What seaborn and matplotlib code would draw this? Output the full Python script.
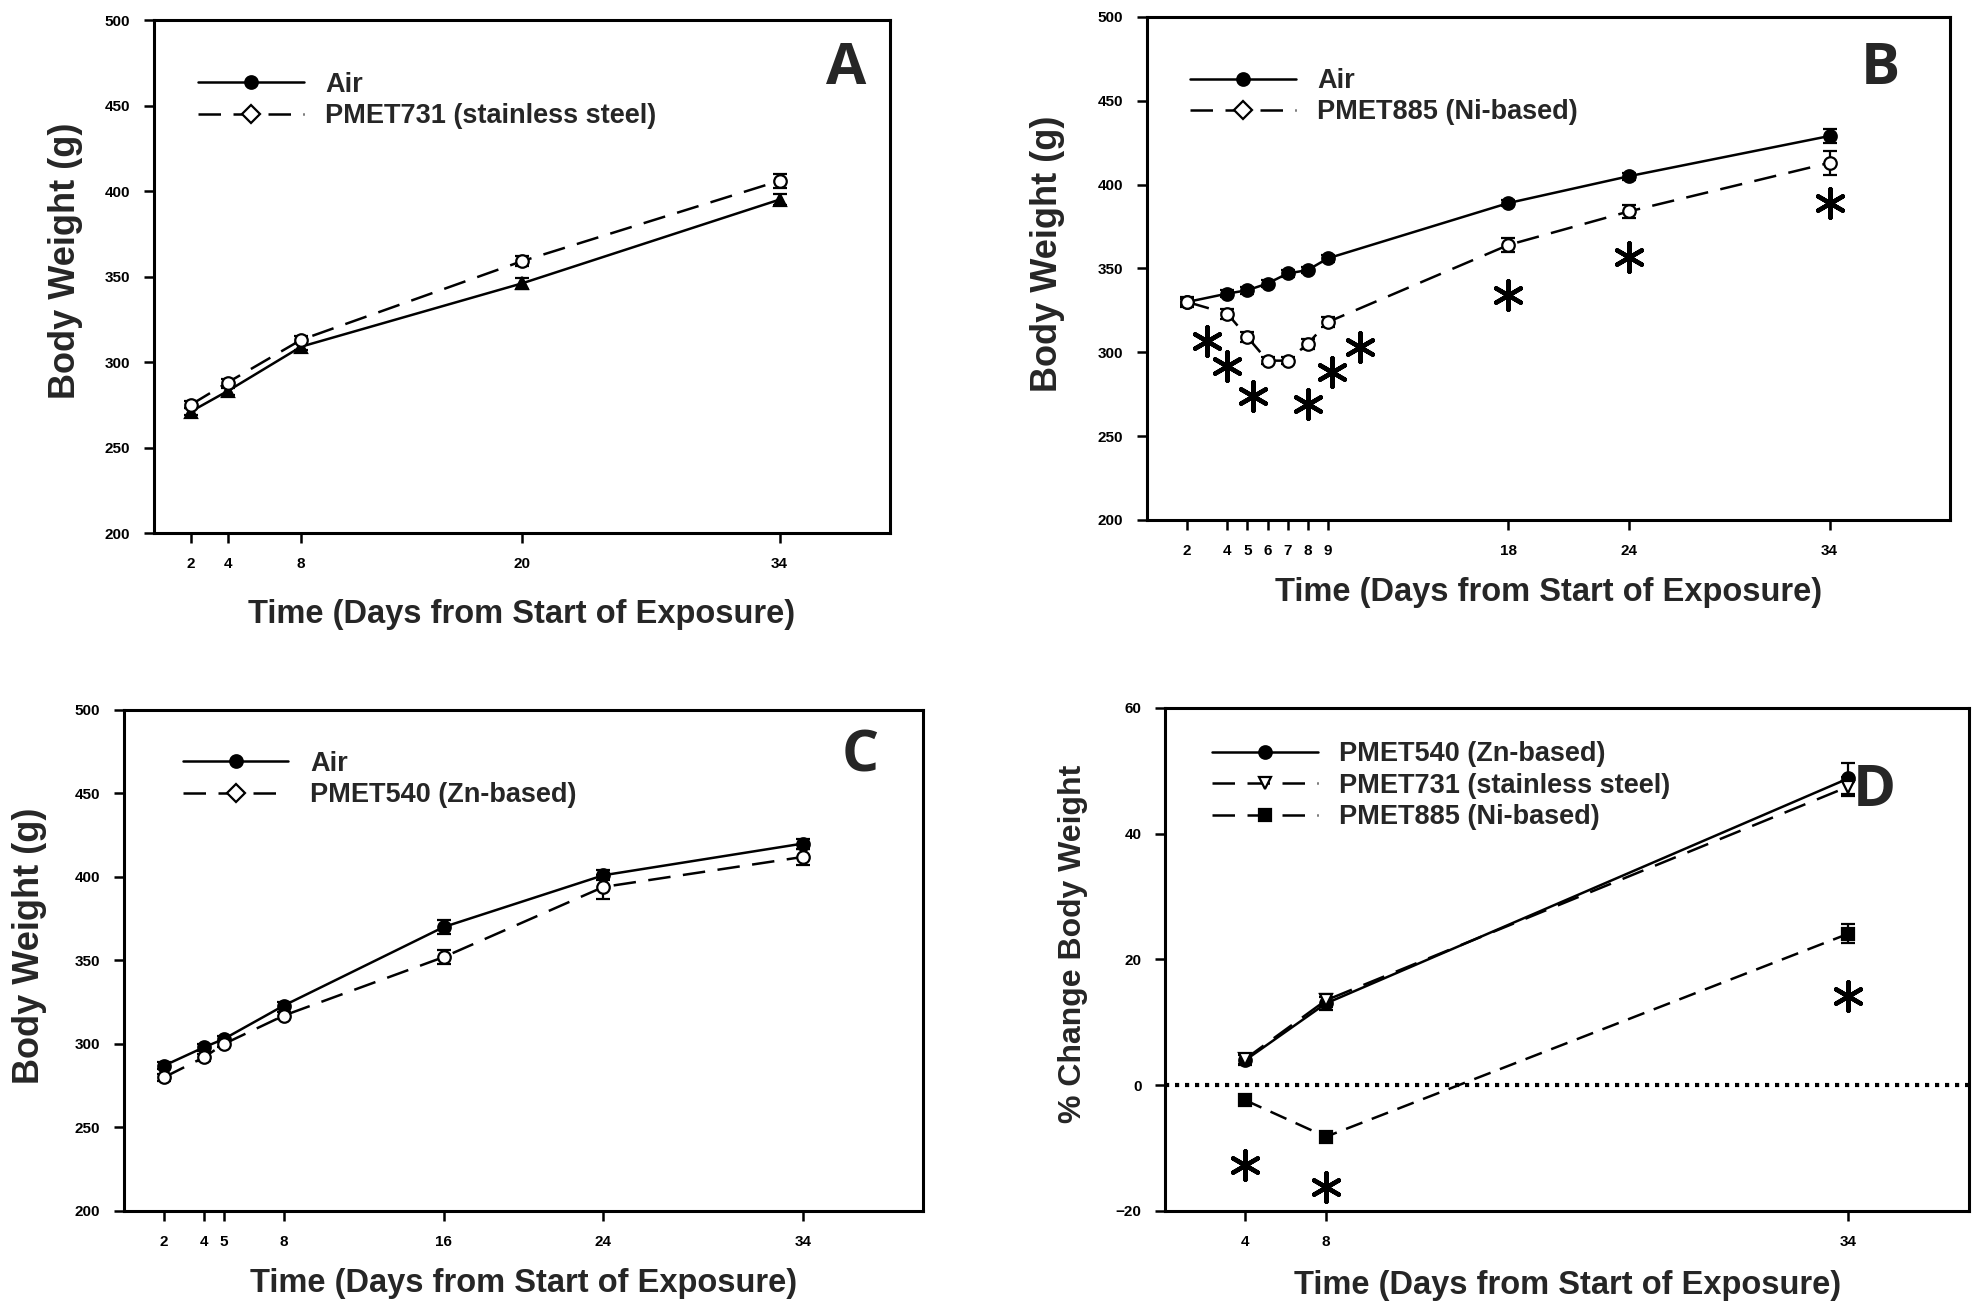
import numpy as np
import pandas as pd
import matplotlib
matplotlib.use("Agg")
import matplotlib.pyplot as plt
import seaborn as sns
from matplotlib.lines import Line2D

# ---------------- data ----------------
# Panel A
a_days = [2, 4, 8, 20, 34]
a_air = [271, 283, 309, 346, 395]
a_air_err = [2, 2, 2, 3, 3]
a_731 = [275, 288, 313, 359, 406]
a_731_err = [2, 2, 2, 3, 4]
a_ticks = [2, 4, 8, 20, 34]

# Panel B
b_days = [2, 4, 5, 6, 7, 8, 9, 18, 24, 34]
b_air = [330, 335, 337, 341, 347, 349, 356, 389, 405, 429]
b_air_err = [2, 2, 2, 2, 2, 2, 2, 2, 2, 4]
b_885 = [330, 323, 309, 295, 295, 305, 318, 364, 384, 413]
b_885_err = [3, 3, 3, 2, 2, 3, 3, 4, 4, 7]
b_ticks = [2, 4, 5, 6, 7, 8, 9, 18, 24, 34]
b_star_x = [3.0, 4.0, 5.3, 8.0, 9.2, 10.6, 18.0, 24.0, 34.0]
b_star_y = [307, 292, 274, 269, 288, 303, 334, 357, 389]

# Panel C
c_days = [2, 4, 5, 8, 16, 24, 34]
c_air = [287, 298, 303, 323, 370, 401, 420]
c_air_err = [2, 2, 2, 2, 4, 3, 3]
c_540 = [280, 292, 300, 317, 352, 394, 412]
c_540_err = [2, 2, 2, 2, 4, 7, 5]
c_ticks = [2, 4, 5, 8, 16, 24, 34]

# Panel D
d_days = [4, 8, 34]
d_540 = [4.0, 13.0, 48.8]
d_540_err = [0.8, 1.0, 2.5]
d_731 = [4.2, 13.5, 47.5]
d_731_err = [0.8, 1.0, 1.5]
d_885 = [-2.4, -8.2, 24.1]
d_885_err = [0.8, 0.8, 1.5]
d_ticks = [4, 8, 34]
d_star_x = [4.0, 8.0, 34.0]
d_star_y = [-12.7, -16.2, 14.2]

# ---------------- style ----------------
sns.set_theme(style="white")
plt.rcParams["font.family"] = ["Liberation Sans", "DejaVu Sans"]

fig = plt.figure(figsize=(19.76, 13.11), dpi=100)
axA = fig.add_axes([0.0779, 0.5934, 0.3725, 0.3913])
axB = fig.add_axes([0.5805, 0.6034, 0.4064, 0.3837])
axC = fig.add_axes([0.0628, 0.0763, 0.4043, 0.3822])
axD = fig.add_axes([0.5896, 0.0763, 0.4069, 0.3837])

DASH = (0, (9, 5))
DASH2 = (0, (7, 4))


def series(ax, x, y, err, filled=True, ls="-", marker="o", ms=9):
    sns.lineplot(x=x, y=y, ax=ax, color="black", linewidth=1.8, linestyle=ls,
                 marker=marker, markersize=ms,
                 markerfacecolor="black" if filled else "white",
                 markeredgecolor="black", markeredgewidth=1.6, zorder=3)
    ax.errorbar(x, y, yerr=err, fmt="none", ecolor="black", elinewidth=1.6,
                capsize=5, capthick=1.6, zorder=2)


def stars(ax, x, y):
    sns.scatterplot(x=x, y=y, ax=ax, marker=(6, 2, 0), s=420, color="black",
                    linewidth=3.2, edgecolor="black", zorder=4, legend=False)


def style_axes(ax, ticks, ylim, yticks, ylabel, letter, lab_xy, letter_xy, ylab_size=26):
    ax.set_xlim(0, 40)
    ax.set_ylim(*ylim)
    ax.set_xticks(ticks)
    ax.set_yticks(yticks)
    for s in ax.spines.values():
        s.set_color("black")
        s.set_linewidth(2.2)
    ax.tick_params(axis="both", which="both", direction="out", length=7, width=1.8,
                   bottom=True, left=True, top=False, right=False,
                   labelsize=11, colors="black", pad=10)
    for t in ax.get_xticklabels() + ax.get_yticklabels():
        t.set_fontweight("bold")
    ax.set_xlabel("Time (Days from Start of Exposure)", fontsize=23.5, fontweight="bold")
    ax.set_ylabel(ylabel, fontsize=ylab_size, fontweight="bold")
    ax.xaxis.set_label_coords(0.5, lab_xy[1])
    ax.yaxis.set_label_coords(lab_xy[0], 0.53)
    ax.text(letter_xy[0], letter_xy[1], letter, transform=ax.transAxes, fontsize=42,
            fontweight="bold", ha="center", va="center", family=["Open Sans", "DejaVu Sans"])


def legend(ax, entries, anchor):
    handles = []
    for lab, ls, mk, filled in entries:
        handles.append(Line2D([], [], color="black", linewidth=1.8, linestyle=ls, marker=mk,
                              markersize=9, markerfacecolor="black" if filled else "white",
                              markeredgecolor="black", markeredgewidth=1.6, label=lab))
    ax.legend(handles=handles, loc="upper left", bbox_to_anchor=anchor, frameon=False,
              prop={"size": 19.5, "weight": "bold"}, handlelength=3.9,
              handletextpad=0.8, labelspacing=0.2, borderaxespad=0)


# Panel A
series(axA, a_days, a_air, a_air_err, filled=True, ls="-", marker="^")
series(axA, a_days, a_731, a_731_err, filled=False, ls=DASH, marker="o")
style_axes(axA, a_ticks, (200, 500), range(200, 501, 50), "Body Weight (g)", "A",
           (-0.097, -0.128), (0.94, 0.905))
legend(axA, [("Air", "-", "o", True), ("PMET731 (stainless steel)", DASH, "D", False)],
         (0.045, 0.92))

# Panel B
series(axB, b_days, b_air, b_air_err, filled=True, ls="-", marker="o")
series(axB, b_days, b_885, b_885_err, filled=False, ls=DASH, marker="o")
stars(axB, b_star_x, b_star_y)
style_axes(axB, b_ticks, (200, 500), range(200, 501, 50), "Body Weight (g)", "B",
           (-0.102, -0.113), (0.913, 0.897))
legend(axB, [("Air", "-", "o", True), ("PMET885 (Ni-based)", DASH, "D", False)],
         (0.04, 0.92))

# Panel C
series(axC, c_days, c_air, c_air_err, filled=True, ls="-", marker="o")
series(axC, c_days, c_540, c_540_err, filled=False, ls=DASH, marker="o")
style_axes(axC, c_ticks, (200, 500), range(200, 501, 50), "Body Weight (g)", "C",
           (-0.096, -0.114), (0.922, 0.908))
legend(axC, [("Air", "-", "o", True), ("PMET540 (Zn-based)", DASH, "D", False)],
         (0.06, 0.94))

# Panel D
axD.axhline(0, color="black", linestyle=(0, (1, 1.4)), linewidth=3, zorder=1)
series(axD, d_days, d_540, d_540_err, filled=True, ls="-", marker="o")
series(axD, d_days, d_731, d_731_err, filled=False, ls=DASH, marker="v")
series(axD, d_days, d_885, d_885_err, filled=True, ls=DASH2, marker="s", ms=8)
stars(axD, d_star_x, d_star_y)
style_axes(axD, d_ticks, (-20, 60), range(-20, 61, 20), "% Change Body Weight", "D",
           (-0.096, -0.117), (0.882, 0.835), ylab_size=23)
legend(axD, [("PMET540 (Zn-based)", "-", "o", True),
             ("PMET731 (stainless steel)", DASH, "v", False),
             ("PMET885 (Ni-based)", DASH, "s", True)],
         (0.045, 0.955))

fig.savefig("out.png", dpi=100)
